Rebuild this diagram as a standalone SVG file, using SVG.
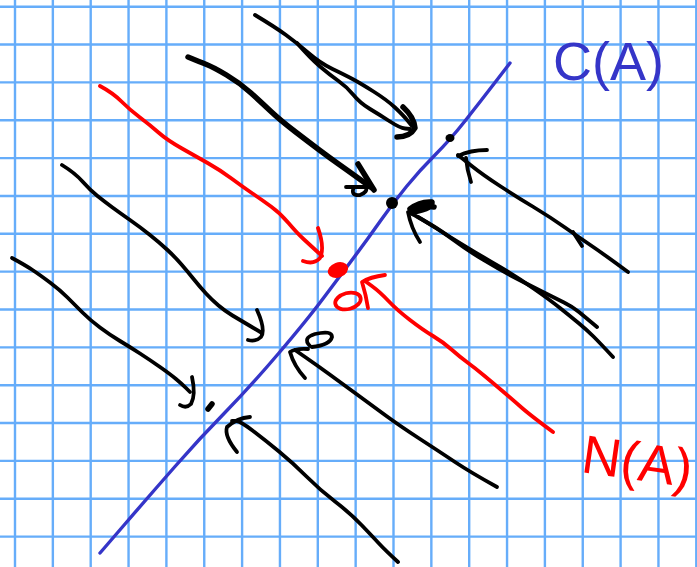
<svg xmlns="http://www.w3.org/2000/svg" width="697" height="567" viewBox="0 0 697 567">
<style>
.grid{fill:none;stroke:#66adfa;stroke-width:2.4}
.ink{fill:none;stroke-linecap:round;stroke-linejoin:round}
.k{stroke:#000;stroke-width:3.8}
.kb{stroke:#000;stroke-width:5.5}
.r{stroke:#ff0000;stroke-width:3.8}
.b{stroke:#3535c8;stroke-width:3.4}
.lbl{font-family:"Liberation Sans","DejaVu Sans",sans-serif;font-size:54px}
</style>
<rect width="697" height="567" fill="#ffffff"/>
<g id="grid">
<path class="grid" d="M15,0V567M52.85,0V567M90.7,0V567M128.55,0V567M166.4,0V567M204.25,0V567M242.1,0V567M279.95,0V567M317.8,0V567M355.65,0V567M393.5,0V567M431.35,0V567M469.2,0V567M507.05,0V567M544.9,0V567M582.75,0V567M620.6,0V567M658.45,0V567M696.3,0V567"/>
<path class="grid" d="M0,6.7H697M0,44.55H697M0,82.4H697M0,120.25H697M0,158.1H697M0,195.95H697M0,233.8H697M0,271.65H697M0,309.5H697M0,347.35H697M0,385.2H697M0,423.05H697M0,460.9H697M0,498.75H697M0,536.6H697"/>
</g>
<g id="column-space">
<path class="ink b" d="M100,553 L125,524 Q150,495 175,466.5 Q200,438 225,412.5 Q250,387 278.5,353.5 Q307,320 323.5,298 Q340,276 353.5,258 Q367,240 380,221.5 Q393,203 406.5,186.5 Q420,170 435,155 Q450,140 465,121 Q480,102 495,82.5 L510,63"/>
<text class="lbl" x="553" y="80" fill="#3535c8">C(A)</text>
</g>
<g id="points">
<circle cx="392" cy="203" r="6" fill="#000"/>
<ellipse cx="450" cy="138" rx="4.5" ry="4" fill="#000"/>
<ellipse cx="338" cy="270" rx="10.5" ry="7.5" transform="rotate(-20 338 270)" fill="#ff0000"/>
</g>
<g id="connectors">
<path class="ink k" d="M255,15 Q275,27 286,35 Q297,43 308.5,53 Q320,63 332.5,69 Q345,75 352.5,79 Q360,83 373.5,91.5 Q387,100 395,107.5 Q403,115 407.5,120.5 L412,126"/>
<path class="ink k" d="M297,43 Q310,58 320,66.5 Q330,75 338.5,81 Q347,87 353.5,95 Q360,103 370,109 Q380,115 390,121.5 Q400,128 405,128.5 L410,129"/>
<path class="ink kb" d="M403,107 Q414,117 415,128 Q410,137 397,137"/>
<path class="ink kb" d="M188,57 Q200,62 206.5,64.5 Q213,67 226.5,75 Q240,83 251,93 Q262,103 271,111.5 Q280,120 295,131.5 Q310,143 320,150.5 Q330,158 338.5,164 Q347,170 359.5,179 L372,188"/>
<path class="ink kb" d="M358,164 L366,177 L374,190"/>
<path class="ink k" d="M346,187 L372,187"/>
<path class="ink k" d="M354,187 Q350,196 360,195 Q368,192 366,187"/>
<path class="ink k" d="M62,165 Q75,173 82.5,181.5 Q90,190 97.5,196 Q105,202 112.5,207.5 Q120,213 130,220 Q140,227 150,235 Q160,243 167.5,250 Q175,257 181.5,264.5 Q188,272 194,279.5 Q200,287 206,293.5 Q212,300 218.5,305.5 Q225,311 232.5,315.5 Q240,320 251,326.5 L262,333"/>
<path class="ink k" d="M257,310 Q266,330 261,337 Q256,342 248,340"/>
<path class="ink k" d="M12,258 Q25,265 32.5,270 Q40,275 50,282.5 Q60,290 67.5,297.5 Q75,305 82.5,312.5 Q90,320 100,327.5 Q110,335 120,341 Q130,347 140,353.5 Q150,360 160,367 Q170,374 176,379 Q182,384 186,388 L190,392"/>
<path class="ink k" d="M192,377 Q196,395 191,404 Q186,409 180,405"/>
<path class="ink kb" d="M208,409 L212,404"/>
<path class="ink k" d="M398,562 Q385,550 379,543.5 Q373,537 361.5,525 Q350,513 335,501.5 Q320,490 306.5,476.5 Q293,463 279,451.5 Q265,440 252.5,430.5 Q240,421 236,421 L232,421"/>
<path class="ink k" d="M250,417 Q237,418 227,427 Q224,436 237,452"/>
<path class="ink k" d="M497,487 Q470,472 455,462 Q440,452 420,439 Q400,426 385,415 Q370,404 355,393 Q340,382 329,374 Q318,366 306.5,358 L295,350"/>
<path class="ink k" d="M308,349 Q296,348 290,352 Q294,366 305,378"/>
<path class="ink k" d="M310,346 Q302,338 315,334 Q332,330 332,337 Q330,345 312,347"/>
<path class="ink k" d="M613,357 Q600,343 593.5,336.5 Q587,330 578.5,323 Q570,316 560,308 Q550,300 533.5,288.5 Q517,277 500,267 Q483,257 466.5,247 Q450,237 435,227.5 Q420,218 415,215.5 L410,213"/>
<path class="ink k" d="M597,327 Q585,317 579,312 Q573,307 564,302.5 Q555,298 544,292.5 Q533,287 516.5,278.5 Q500,270 483.5,260 Q467,250 453.5,240 Q440,230 431.5,225 Q423,220 420.5,218.5 L418,217"/>
<path class="ink kb" d="M410,209 Q420,201 432,202 Q433,209 413,212 Q424,205 434,207"/>
<path class="ink k" d="M408,212 Q411,228 420,242"/>
<path class="ink k" d="M628,272 Q605,255 592.5,246.5 Q580,238 565,227.5 Q550,217 533.5,207 Q517,197 500,186 Q483,175 470.5,165 L458,155"/>
<path class="ink k" d="M573,232 L582,246"/>
<path class="ink k" d="M487,150 Q470,150 458,156"/>
<path class="ink k" d="M466,158 Q467,170 471,182"/>
<path class="ink r" d="M100,86 Q113,93 121.5,101.5 Q130,110 140,117.5 Q150,125 158.5,132.5 Q167,140 182,148.5 Q197,157 208.5,163.5 Q220,170 231.5,178.5 Q243,187 252.5,193.5 Q262,200 271,206.5 Q280,213 288.5,223 Q297,233 303.5,239 Q310,245 316,250.5 L322,256"/>
<path class="ink r" d="M318,228 Q325,248 320,258 Q314,265 303,261"/>
<path class="ink r" d="M553,432 Q530,415 521.5,407.5 Q513,400 503,391.5 Q493,383 484,375.5 Q475,368 467.5,362.5 Q460,357 451.5,349.5 Q443,342 433,336 Q423,330 410,320 Q397,310 388.5,301 Q380,292 372.5,286.5 L365,281"/>
<path class="ink r" d="M385,275 Q370,277 362,282 Q366,295 368,308"/>
<ellipse class="ink r" cx="348" cy="301" rx="13" ry="8" transform="rotate(-15 348 301)"/>
</g>
<g id="null-space">
<text class="lbl" x="580" y="472" fill="#ff0000" transform="rotate(8 580 472)">N(A)</text>
</g>
</svg>
